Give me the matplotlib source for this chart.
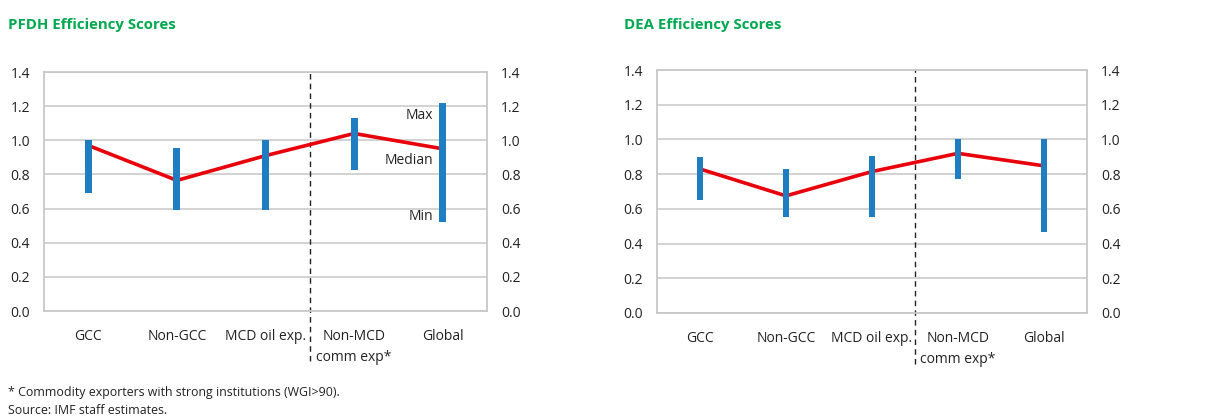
import numpy as np
import matplotlib.pyplot as plt

plt.rcParams['font.family'] = ['Open Sans', 'DejaVu Sans']

# Data
categories = ['GCC', 'Non-GCC', 'MCD oil exp.', 'Non-MCD\ncomm exp*', 'Global']

pfdh_max = [1.00, 0.955, 1.00, 1.13, 1.22]
pfdh_min = [0.69, 0.59, 0.59, 0.825, 0.52]
pfdh_median = [0.97, 0.765, 0.91, 1.04, 0.95]

dea_max = [0.90, 0.83, 0.905, 1.005, 1.005]
dea_min = [0.65, 0.555, 0.555, 0.77, 0.465]
dea_median = [0.83, 0.675, 0.815, 0.92, 0.848]

yticks = [0.0, 0.2, 0.4, 0.6, 0.8, 1.0, 1.2, 1.4]

blue = '#1F7DC1'
red = '#E8000B'
green = '#00A94F'
grid_col = '#CFCFCF'

fig = plt.figure(figsize=(12.25, 4.16), dpi=100)
ax1 = fig.add_axes([0.0359, 0.2524, 0.3617, 0.5745])
ax2 = fig.add_axes([0.5363, 0.2476, 0.3510, 0.5840])


def draw(ax, vmax, vmin, vmed):
    x = np.arange(len(categories))
    ax.plot(x, vmed, color=red, lw=2.6, zorder=3, solid_capstyle='butt')
    heights = np.array(vmax) - np.array(vmin)
    ax.bar(x, heights, bottom=vmin, width=0.08, color=blue, zorder=4)
    ax.set_xlim(-0.5, len(categories) - 0.5)
    ax.set_ylim(0, 1.4)
    ax.set_yticks(yticks)
    ax.set_yticklabels([f'{v:.1f}' for v in yticks])
    ax.set_xticks(x)
    ax.set_xticklabels(categories, fontsize=10, color='#222222', linespacing=1.5)
    ax.yaxis.grid(True, color=grid_col, lw=1.3)
    ax.set_axisbelow(True)
    for s in ax.spines.values():
        s.set_color('#C8C8C8')
        s.set_linewidth(1.3)
    ax.tick_params(axis='both', length=0, labelsize=10, labelcolor='#222222')
    ax.tick_params(axis='x', pad=13)
    ax.tick_params(axis='y', pad=10, labelleft=True, labelright=True)
    ax.axvline(2.5, ymin=-0.21, ymax=1, color='#222222', lw=1, ls=(0, (4, 3)),
               clip_on=False, zorder=2)


draw(ax1, pfdh_max, pfdh_min, pfdh_median)
draw(ax2, dea_max, dea_min, dea_median)

# labels on Global bar
for txt, val in [('Max', 1.148), ('Median', 0.879), ('Min', 0.551)]:
    ax1.annotate(txt, xy=(4, val), xytext=(-7, 0), textcoords='offset points',
                 ha='right', va='center', fontsize=10, color='#222222')

fig.text(0.0065, 0.94, 'PFDH Efficiency Scores', color=green, fontsize=10.8,
         fontweight='bold', va='center')
fig.text(0.509, 0.94, 'DEA Efficiency Scores', color=green, fontsize=10.8,
         fontweight='bold', va='center')

fig.text(0.0065, 0.056, '* Commodity exporters with strong institutions (WGI>90).',
         fontsize=8.9, color='#222222', va='center')
fig.text(0.0065, 0.013, 'Source: IMF staff estimates.',
         fontsize=8.9, color='#222222', va='center')

fig.savefig('out.png', dpi=100)
